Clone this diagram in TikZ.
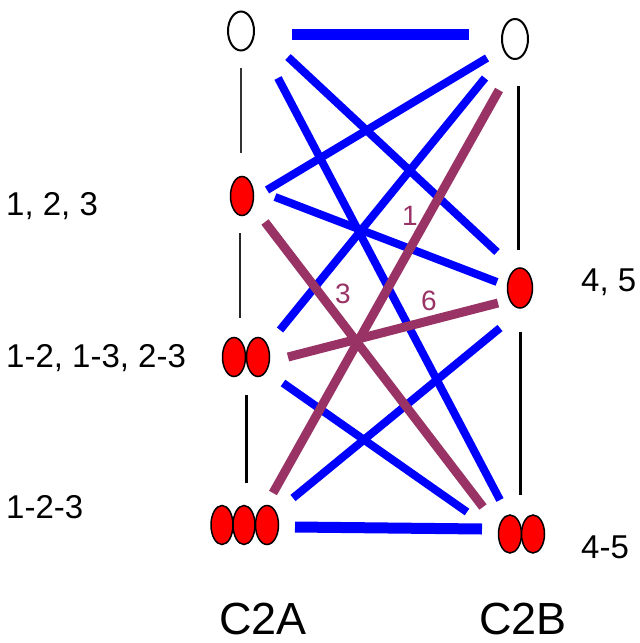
\documentclass[tikz,border=0pt]{standalone}
\usepackage{fontspec}
\setmainfont{Liberation Sans}
\usepackage{xcolor}
\usetikzlibrary{shapes.geometric}
\definecolor{plum}{RGB}{153,51,102}

\begin{document}
\begin{tikzpicture}[x=1pt,y=-1pt,
  dot/.style={ellipse, draw=black, line width=1.5pt, fill=red, inner sep=0pt,
    minimum width=23pt, minimum height=39pt},
  hollow/.style={dot, fill=white, line width=2pt, minimum width=26pt},
  rung/.style={black, line width=2.5pt},
  bond/.style={blue, line width=8pt},
  link/.style={plum, line width=9pt},
  lbl/.style={anchor=base west, inner sep=0pt, font=\fontsize{33}{33}\selectfont},
  num/.style={anchor=base, inner sep=0pt, text=plum, font=\fontsize{28}{28}\selectfont},
  side/.style={anchor=base west, inner sep=0pt, font=\fontsize{45}{45}\selectfont}]
\useasboundingbox (0,0) rectangle (640,643);

% C2A column
\node[hollow] (A0) at (241,31) {};
\node[dot] (A1) at (242,196) {};
\node[dot] (A2a) at (234,357) {};
\node[dot] (A2b) at (258,357) {};
\node[dot, minimum width=22pt] (A3a) at (222,525) {};
\node[dot, minimum width=22pt] (A3b) at (244,525) {};
\node[dot, minimum width=23pt] (A3c) at (267,525) {};

% C2B column
\node[hollow, minimum height=40pt] (B0) at (515,39) {};
\node[dot, minimum width=25pt, minimum height=40pt] (B1) at (520,288) {};
\node[dot, minimum height=38pt] (B2a) at (510,534) {};
\node[dot, minimum height=38pt] (B2b) at (533,534) {};

% rungs
\draw[rung, line width=2pt, black!80] ([shift={(0,37)}]A0.center) -- ([shift={(-1,-43)}]A1.center);
\draw[rung, black!85] ([shift={(-2,37)}]A1.center) -- ([shift={(6,-39)}]A2a.center);
\draw[rung, line width=3pt] ([shift={(12,38)}]A2a.center) -- ([shift={(2,-42)}]A3b.center);
\draw[rung, line width=3pt] ([shift={(3,47)}]B0.center) -- ([shift={(-2,-38)}]B1.center);
\draw[rung, line width=3pt] ([shift={(0,44)}]B1.center) -- ([shift={(10,-39)}]B2a.center);

% blue bonds
\draw[bond, line width=11pt] ([shift={(51,3)}]A0.center) -- ([shift={(-46,-5)}]B0.center);
\draw[bond] ([shift={(47,26)}]A0.center) -- ([shift={(-23,-36)}]B1.center);
\draw[bond] ([shift={(37,47)}]A0.center) -- ([shift={(-10,-34)}]B2a.center);
\draw[bond] ([shift={(25,-6)}]A1.center) -- ([shift={(-28,19)}]B0.center);
\draw[bond] ([shift={(22,-27)}]A2b.center) -- ([shift={(-30,39)}]B0.center);
\draw[bond] ([shift={(33,1)}]A1.center) -- ([shift={(-23,-6)}]B1.center);
\draw[bond] ([shift={(26,-27)}]A3c.center) -- ([shift={(-20,40)}]B1.center);
\draw[bond] ([shift={(25,26)}]A2b.center) -- ([shift={(-43,-22)}]B2a.center);
\draw[bond, line width=11pt] ([shift={(28,2)}]A3c.center) -- ([shift={(-28,-5)}]B2a.center);

% plum links
\draw[link] ([shift={(-16,51)}]B0.center) -- ([shift={(6,-32)}]A3c.center);
\draw[link] ([shift={(23,26)}]A1.center) -- ([shift={(-27,-27)}]B2a.center);
\draw[link] ([shift={(30,0)}]A2b.center) -- ([shift={(-22,15)}]B1.center);

\node[num] (n1) at (410,225) {1};
\node[num] (n3) at (343,303) {3};
\node[num] (n6) at (429,310) {6};

% labels
\node[lbl] (la1) at (6,215) {1, 2, 3};
\node[lbl] (la2) at (6,367) {1-2, 1-3, 2-3};
\node[lbl] (la3) at (6,518) {1-2-3};
\node[lbl] (lb1) at (581,291) {4, 5};
\node[lbl] (lb2) at (581,558) {4-5};
\node[side] (ca) at (219,634) {C2A};
\node[side] (cb) at (479,634) {C2B};
\end{tikzpicture}
\end{document}
